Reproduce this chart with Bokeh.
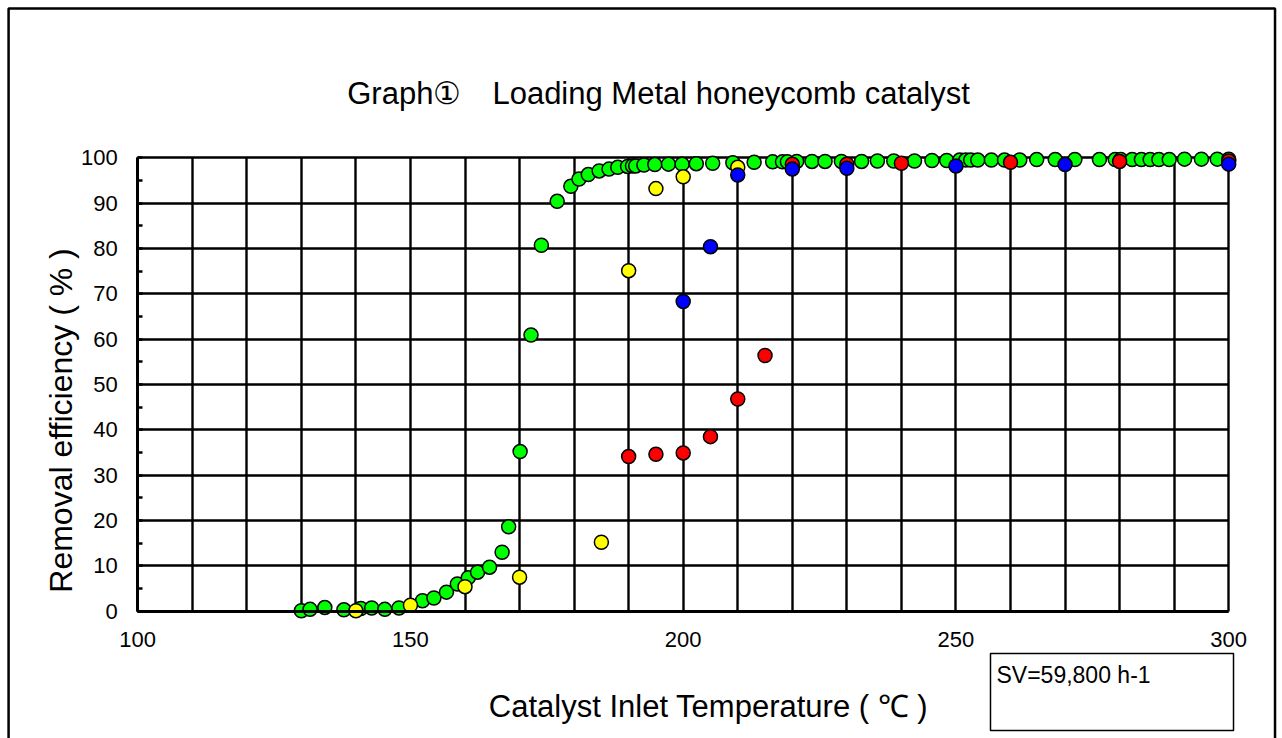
from bokeh.plotting import figure
from bokeh.models import (Range1d, FixedTicker, SingleIntervalTicker, Label, BoxAnnotation)
from bokeh.embed import file_html
from bokeh.resources import INLINE

# ---- data ----
green_x = [130.0, 131.6, 134.3, 137.8, 140.9, 142.9, 145.3, 147.9, 152.2, 154.3,
           156.6, 158.6, 160.6, 162.3, 164.5, 166.8, 168.0, 170.1, 172.1, 174.0,
           176.9, 179.4, 180.9, 182.6, 184.6, 186.4, 188.0, 189.8, 190.7, 191.3,
           192.8, 194.8, 197.3, 199.8, 202.4, 205.4, 209.1, 213.0, 216.4, 218.2,
           219.1, 220.8, 223.6, 226.0, 229.0, 232.7, 235.6, 238.6, 242.4, 245.6,
           248.3, 250.7, 251.8, 252.7, 254.0, 256.5, 258.9, 261.7, 264.8, 268.2,
           271.8, 276.3, 279.2, 280.2, 282.3, 284.0, 285.6, 287.2, 289.1, 291.9,
           295.0, 297.9, 300.0]
green_y = [0.1, 0.4, 0.8, 0.3, 0.6, 0.7, 0.4, 0.7, 2.3, 2.9,
           4.2, 6.0, 7.4, 8.6, 9.7, 13.0, 18.6, 35.2, 60.9, 80.7,
           90.4, 93.7, 95.3, 96.3, 97.1, 97.5, 97.9, 98.1, 98.2, 98.2,
           98.4, 98.5, 98.6, 98.6, 98.7, 98.8, 98.9, 99.0, 99.1, 99.1,
           99.1, 99.2, 99.2, 99.2, 99.2, 99.2, 99.3, 99.3, 99.3, 99.4,
           99.4, 99.5, 99.5, 99.5, 99.5, 99.5, 99.5, 99.5, 99.6, 99.6,
           99.6, 99.6, 99.6, 99.6, 99.6, 99.6, 99.6, 99.6, 99.6, 99.7,
           99.7, 99.7, 99.7]

yellow_x = [140, 150, 160, 170, 185, 190, 195, 200, 210]
yellow_y = [0.1, 1.3, 5.4, 7.5, 15.2, 75.1, 93.2, 95.8, 97.9]

red_x = [190, 195, 200, 205, 210, 215, 220, 230, 240, 260, 280, 300]
red_y = [34.1, 34.6, 34.9, 38.5, 46.8, 56.4, 98.6, 98.6, 98.8, 99.0, 99.2, 99.3]

blue_x = [200, 205, 210, 220, 230, 250, 270, 300]
blue_y = [68.3, 80.4, 96.2, 97.5, 97.7, 98.2, 98.5, 98.6]

x_ticks = [100, 150, 200, 250, 300]
x_bounds = (100, 300)
y_bounds = (0, 100)

title_text = "Graph\u2460\u3000Loading Metal honeycomb catalyst"
x_title = "Catalyst Inlet Temperature ( \u2103 )"
y_title = "Removal efficiency ( % )"
note_text = "SV=59,800 h-1"

FONT = "Liberation Sans"

# frame covers the whole canvas; axes sit at fixed locations inside it
p = figure(width=1282, height=738, output_backend="svg", toolbar_location=None, title=None,
           x_range=Range1d(74.849, 309.86), y_range=Range1d(-28.08, 134.69),
           min_border=0)
p.background_fill_color = "white"
p.border_fill_color = "white"
p.outline_line_color = None

# axes
p.xaxis.fixed_location = 0
p.yaxis.fixed_location = 100
p.xaxis.bounds = x_bounds
p.yaxis.bounds = y_bounds
p.xaxis.ticker = FixedTicker(ticks=x_ticks)
p.yaxis.ticker = SingleIntervalTicker(interval=10, num_minor_ticks=2)
for ax in (p.xaxis[0], p.yaxis[0]):
    ax.axis_line_color = "black"
    ax.axis_line_width = 3
    ax.major_tick_in = 0
    ax.major_tick_out = 0
    ax.major_label_text_font = FONT
    ax.major_label_text_font_size = "22px"
    ax.major_label_text_color = "black"
p.xaxis.minor_tick_line_color = None
p.yaxis.minor_tick_in = 5
p.yaxis.minor_tick_out = 0
p.yaxis.minor_tick_line_width = 2.5
p.yaxis.minor_tick_line_color = "black"
p.xaxis.major_label_standoff = 21
p.yaxis.major_label_standoff = 20

# grid
p.xgrid.ticker = SingleIntervalTicker(interval=10)
p.ygrid.ticker = SingleIntervalTicker(interval=10)
p.xgrid.bounds = x_bounds
p.ygrid.bounds = y_bounds
p.xgrid.cross_bounds = y_bounds
p.ygrid.cross_bounds = x_bounds
for g in (p.xgrid[0], p.ygrid[0]):
    g.grid_line_color = "black"
    g.grid_line_width = 2.4
    g.grid_line_alpha = 1

# outer chart-area border
p.add_layout(BoxAnnotation(left=76.33, right=308.49, top=132.93, bottom=-40,
                           fill_alpha=0, line_color="black", line_alpha=1, line_width=2.5,
                           level="underlay"))

# series
p.scatter(green_x, green_y, size=14, fill_color="#00FF00", line_color="black", line_width=1.5)
p.scatter(yellow_x, yellow_y, size=14, fill_color="#FFFF00", line_color="black", line_width=1.5)
p.scatter(red_x, red_y, size=14, fill_color="#FF0000", line_color="black", line_width=1.5)
p.scatter(blue_x, blue_y, size=14, fill_color="#0000FF", line_color="black", line_width=1.5)

# texts
p.add_layout(Label(x=195.47, y=114.18, text=title_text, text_align="center", text_baseline="middle",
                   text_font=FONT, text_font_size="31px", text_color="black"))
p.add_layout(Label(x=204.64, y=-21.02, text=x_title, text_align="center", text_baseline="middle",
                   text_font=FONT, text_font_size="31px", text_color="black"))
p.add_layout(Label(x=85.85, y=42.06, text=y_title, text_align="center", text_baseline="middle",
                   angle=90, angle_units="deg",
                   text_font=FONT, text_font_size="32px", text_color="black"))
p.add_layout(BoxAnnotation(left=256.33, right=300.88, top=-9.33, bottom=-26.31,
                           fill_color="white", fill_alpha=1, line_color="black", line_alpha=1,
                           line_width=1.5))
p.add_layout(Label(x=257.43, y=-14.18, text=note_text, text_align="left", text_baseline="middle",
                   text_font=FONT, text_font_size="23px", text_color="black"))

open("out.html", "w").write(file_html(p, INLINE))
